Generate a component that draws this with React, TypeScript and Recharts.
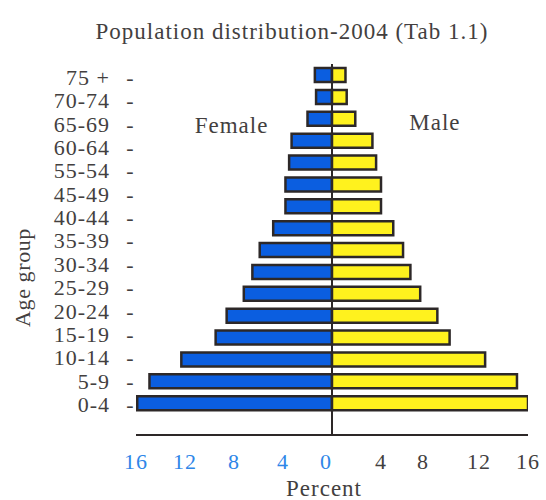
import React from 'react';
import {
  BarChart,
  Bar,
  XAxis,
  YAxis,
  ReferenceLine,
  ReferenceDot,
} from 'recharts';

// Age groups (top to bottom, one per bar)
const ageGroups = ['75+', '70-74', '65-69', '60-64', '55-59', '50-54', '45-49', '40-44', '35-39', '30-34', '25-29', '20-24', '15-19', '10-14', '5-9', '0-4'];
// Percent of population
const femalePct = [1.4, 1.3, 2.0, 3.3, 3.5, 3.8, 3.8, 4.8, 5.9, 6.5, 7.2, 8.6, 9.5, 12.3, 14.9, 15.9];
const malePct = [1.1, 1.2, 1.9, 3.3, 3.6, 4.0, 4.0, 5.0, 5.8, 6.4, 7.2, 8.6, 9.6, 12.5, 15.1, 16.0];
// Printed age labels (as in the source figure, top to bottom)
const yTickLabels = ['75 +', '70-74', '65-69', '60-64', '55-54', '45-49', '40-44', '35-39', '30-34', '25-29', '20-24', '15-19', '10-14', '5-9', '0-4'];
const xTicks = [-16, -12, -8, -4, 0, 4, 8, 12, 16];

const data = ageGroups.map((age, i) => ({ age, female: -femalePct[i], male: malePct[i] }));
// the printed labels are spread evenly over the same height as the 16 bars
const labelTicks = yTickLabels.map((_, i) => 0.53 + i * 0.945);

const FONT = '"Liberation Serif", "DejaVu Serif", serif';
const TEXT = '#433f3f';
const BLUE_TEXT = '#2e86e8';
const OUTLINE = '#2d2828';

const XTick = (props: any) => {
  const { x, y, payload } = props;
  const v = payload.value as number;
  const nudge = v === 0 ? -6 : v === 8 ? -7 : 0;
  return (
    <text
      x={x + nudge}
      y={y + 26}
      dy="0.35em"
      textAnchor="middle"
      fontFamily={FONT}
      fontSize={22}
      letterSpacing={1}
      fill={v <= 0 ? BLUE_TEXT : TEXT}
    >
      {Math.abs(v)}
    </text>
  );
};

const YTick = (props: any) => {
  const { x, y, index } = props;
  const label = yTickLabels[index];
  return (
    <g>
      <text x={x - 26} y={y} dy="0.35em" textAnchor="end" fontFamily={FONT} fontSize={22} letterSpacing={1} fill={TEXT}>
        {label}
      </text>
      <text x={x - 6} y={y} dy="0.35em" textAnchor="middle" fontFamily={FONT} fontSize={22} fill={TEXT}>
        -
      </text>
    </g>
  );
};

const textLabel = (value: string, dx: number, dy: number) => (p: any) => {
  const vb = p.viewBox || {};
  return (
    <text
      x={vb.x + (vb.width || 0) / 2 + dx}
      y={vb.y + (vb.height || 0) / 2 + dy}
      textAnchor="middle"
      fontFamily={FONT}
      fontSize={23}
      letterSpacing={1}
      fill={TEXT}
    >
      {value}
    </text>
  );
};

const ageGroupLabel = (p: any) => {
  const vb = p.viewBox || {};
  const x = vb.x + 30;
  const y = vb.y + vb.height / 2 + 28;
  return (
    <text
      x={x}
      y={y}
      transform={`rotate(-90, ${x}, ${y})`}
      textAnchor="middle"
      fontFamily={FONT}
      fontSize={22}
      letterSpacing={0.6}
      fill={TEXT}
    >
      Age group
    </text>
  );
};

export default function App() {
  return (
    <div style={{ position: 'absolute', left: 0, top: 0, width: 546, height: 500, background: '#fff' }}>
      <div
        style={{
          position: 'absolute',
          left: 0,
          top: 20,
          width: 584,
          textAlign: 'center',
          fontFamily: FONT,
          fontSize: 23,
          lineHeight: '23px',
          letterSpacing: 1,
          color: TEXT,
          whiteSpace: 'nowrap',
        }}
      >
        Population distribution-2004 (Tab 1.1)
      </div>
      <BarChart
        width={546}
        height={500}
        data={data}
        layout="vertical"
        stackOffset="sign"
        margin={{ top: 64, right: 18, bottom: 35, left: 0 }}
        style={{ position: 'absolute', left: 0, top: 0 }}
      >
        <XAxis
          type="number"
          domain={[-16, 16]}
          ticks={xTicks}
          allowDataOverflow
          height={30}
          tickLine={false}
          tickSize={0}
          tickMargin={0}
          axisLine={{ stroke: OUTLINE, strokeWidth: 2 }}
          tick={<XTick />}
          interval={0}
          label={textLabel('Percent', -8, 46) as any}
        />
        <YAxis yAxisId="cat" type="category" dataKey="age" hide width={0} padding={{ top: 0, bottom: 21 }} />
        <YAxis
          yAxisId="lbl"
          type="number"
          domain={[0, 15]}
          ticks={labelTicks}
          allowDataOverflow
          interval={0}
          width={136}
          axisLine={false}
          tickLine={false}
          tickSize={0}
          tickMargin={0}
          tick={<YTick />}
          label={ageGroupLabel as any}
        />
        <Bar
          yAxisId="cat"
          dataKey="female"
          stackId="a"
          fill="#0b5ee0"
          stroke={OUTLINE}
          strokeWidth={2.5}
          barSize={14}
          isAnimationActive={false}
        />
        <Bar
          yAxisId="cat"
          dataKey="male"
          stackId="a"
          fill="#fff21e"
          stroke={OUTLINE}
          strokeWidth={2.5}
          barSize={14}
          isAnimationActive={false}
        />
        <ReferenceLine yAxisId="cat" x={0} stroke={OUTLINE} strokeWidth={2} />
        <ReferenceDot yAxisId="cat" x={-8.2} y="65-69" r={0} stroke="none" fill="none" label={textLabel('Female', 0, 14) as any} />
        <ReferenceDot yAxisId="cat" x={8.4} y="65-69" r={0} stroke="none" fill="none" label={textLabel('Male', 0, 11) as any} />
      </BarChart>
    </div>
  );
}
